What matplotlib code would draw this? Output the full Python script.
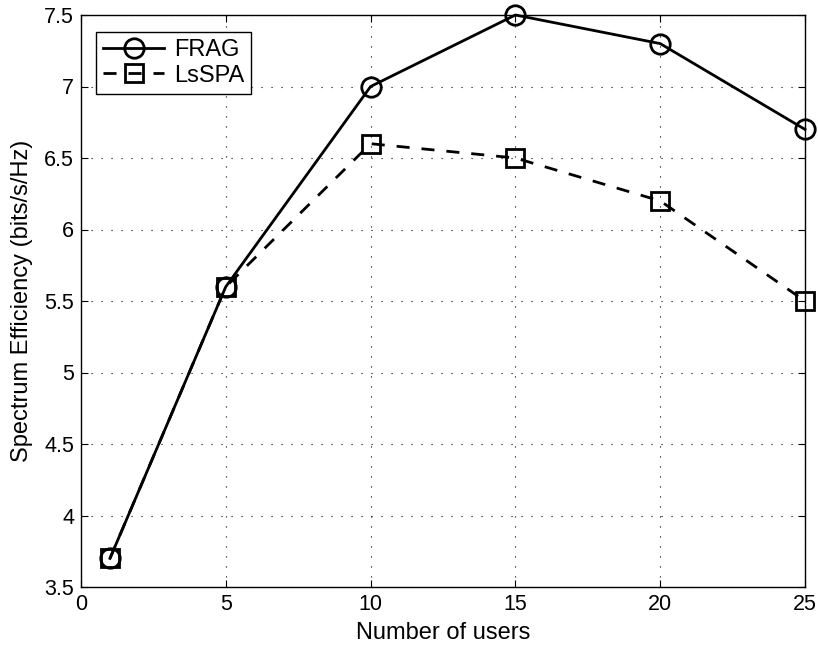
import matplotlib
matplotlib.use("Agg")
import matplotlib.pyplot as plt

plt.rcParams['font.family'] = ['Liberation Sans', 'DejaVu Sans']

users = [1, 5, 10, 15, 20, 25]
frag = [3.7, 5.6, 7.0, 7.5, 7.3, 6.7]
lsspa = [3.7, 5.6, 6.6, 6.5, 6.2, 5.5]
xticks = [0, 5, 10, 15, 20, 25]
yticks = [3.5, 4, 4.5, 5, 5.5, 6, 6.5, 7, 7.5]
ytick_labels = ['3.5', '4', '4.5', '5', '5.5', '6', '6.5', '7', '7.5']

fig = plt.figure(figsize=(8.18, 6.46), dpi=100)
ax = fig.add_axes([81/818, 1-587/646, (805-81)/818, (587-15)/646])

ax.plot(users, frag, '-', color='black', lw=2, marker='o', markersize=14,
        markerfacecolor='none', markeredgewidth=2, label='FRAG', clip_on=False, zorder=3)
ax.plot(users, lsspa, '--', color='black', lw=2, marker='s', markersize=13,
        markerfacecolor='none', markeredgewidth=2, label='LsSPA', dashes=(4.7, 4.3),
        clip_on=False, zorder=3)

ax.set_xlim(0, 25)
ax.set_ylim(3.5, 7.5)
ax.set_xticks(xticks)
ax.set_yticks(yticks)
ax.set_yticklabels(ytick_labels)
ax.tick_params(direction='in', labelsize=15.5, length=5, top=True, right=True, pad=5)
ax.grid(True, linestyle=(0, (1, 8)), color='black', lw=0.8)
for s in ax.spines.values():
    s.set_linewidth(1)

ax.set_xlabel('Number of users', fontsize=17, labelpad=5)
ax.set_ylabel('Spectrum Efficiency (bits/s/Hz)', fontsize=17, labelpad=8)

leg = ax.legend(loc='upper left', bbox_to_anchor=(15/724, 1-17/572), fontsize=17,
                fancybox=False, framealpha=1, edgecolor='black', handlelength=2.6,
                borderpad=0.3, labelspacing=0.15, handletextpad=0.4, borderaxespad=0)
leg.get_frame().set_linewidth(1)

fig.savefig('out.png', dpi=100)
